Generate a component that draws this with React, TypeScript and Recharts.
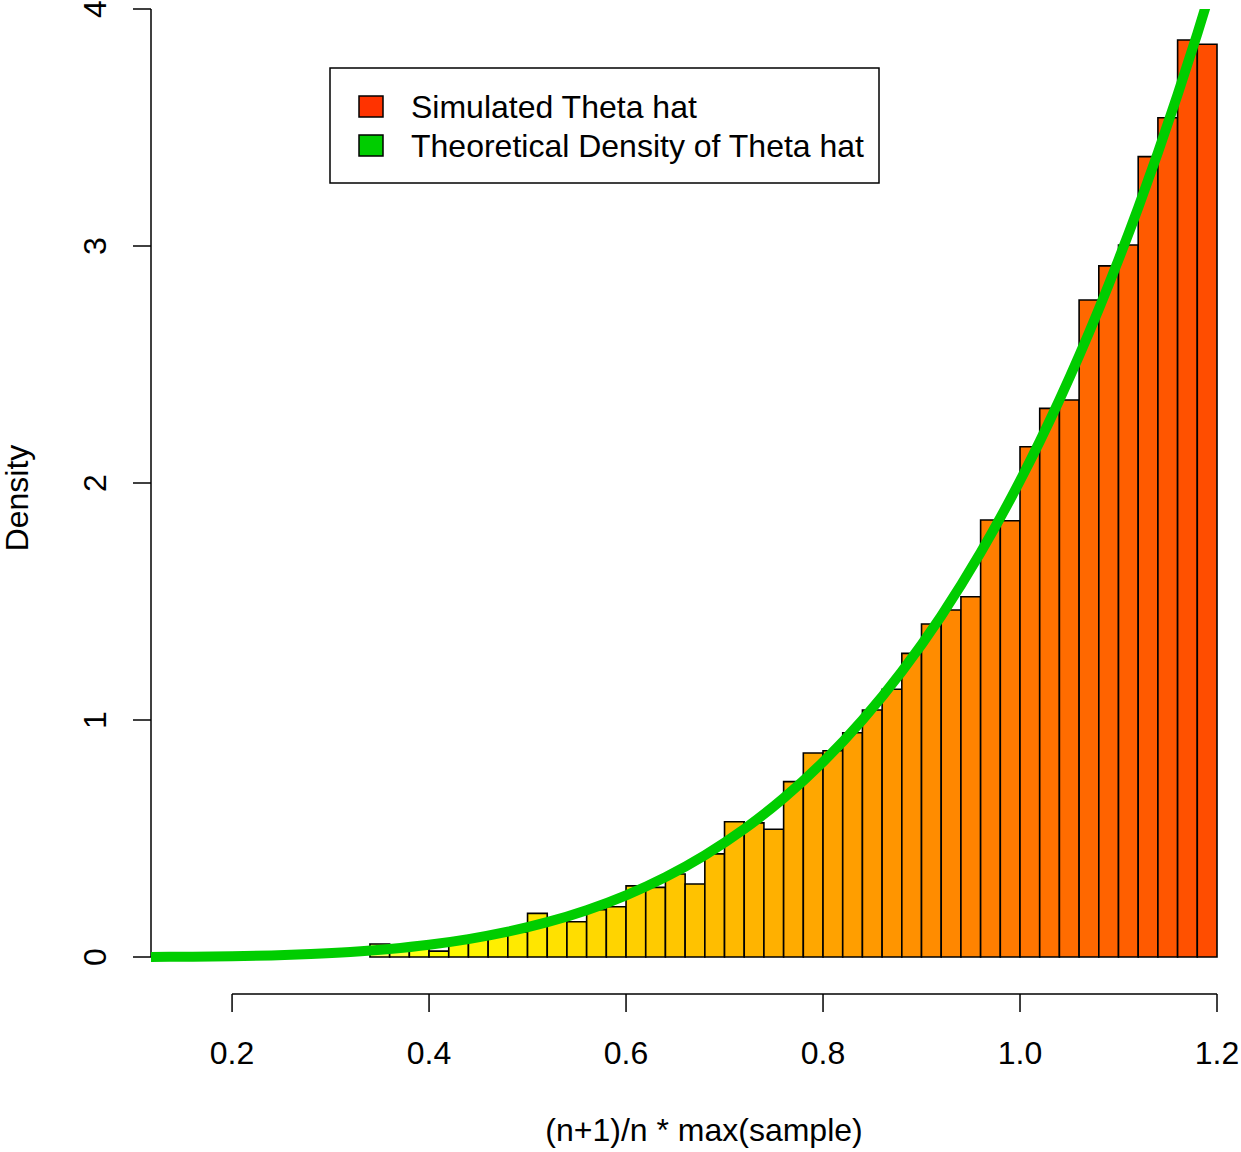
import React from "react";
import { ComposedChart, Line, XAxis, YAxis, ReferenceArea, ReferenceLine } from "recharts";

// Histogram bins (left edge of each 0.02-wide bin) and their densities
const binStarts: number[] = [
  0.34, 0.36, 0.38, 0.40, 0.42, 0.44, 0.46, 0.48, 0.50, 0.52, 0.54, 0.56, 0.58, 0.60,
  0.62, 0.64, 0.66, 0.68, 0.70, 0.72, 0.74, 0.76, 0.78, 0.80, 0.82, 0.84, 0.86, 0.88,
  0.90, 0.92, 0.94, 0.96, 0.98, 1.00, 1.02, 1.04, 1.06, 1.08, 1.10, 1.12, 1.14, 1.16, 1.18,
];
const binWidth = 0.02;
const binDensity: number[] = [
  0.055, 0.035, 0.04, 0.025, 0.065, 0.085, 0.09, 0.105, 0.184, 0.155, 0.149, 0.2, 0.212, 0.3,
  0.294, 0.35, 0.308, 0.435, 0.571, 0.566, 0.539, 0.74, 0.861, 0.87, 0.946, 1.042, 1.13, 1.281,
  1.405, 1.464, 1.52, 1.844, 1.841, 2.153, 2.315, 2.35, 2.772, 2.916, 3.004, 3.377, 3.541, 3.869, 3.851,
];

// Theoretical density curve
const curveX: number[] = [
  0.1177, 0.16, 0.2, 0.24, 0.28, 0.32, 0.36, 0.4, 0.44, 0.48, 0.52, 0.56, 0.6, 0.64, 0.68, 0.72,
  0.76, 0.8, 0.84, 0.88, 0.92, 0.96, 1.0, 1.02, 1.04, 1.06, 1.08, 1.1, 1.12, 1.14, 1.16, 1.18, 1.2,
];
const curveY: number[] = [
  0.0004, 0.0013, 0.0032, 0.0067, 0.0124, 0.0211, 0.0338, 0.0514, 0.0753, 0.1067, 0.1469, 0.1976,
  0.2604, 0.3371, 0.4296, 0.54, 0.6703, 0.823, 1.0004, 1.205, 1.4393, 1.7067, 2.0094, 2.175, 2.3507,
  2.5368, 2.7338, 2.9422, 3.1618, 3.3938, 3.6383, 3.8953, 4.1667,
];

const xTicks: number[] = [0.2, 0.4, 0.6, 0.8, 1.0, 1.2];
const yTicks: number[] = [0, 1, 2, 3, 4];
const xDomain: [number, number] = [0.1177, 1.2];
const yDomain: [number, number] = [-0.1561, 4];

const legendItems = [
  { label: "Simulated Theta hat", color: "#FF3300" },
  { label: "Theoretical Density of Theta hat", color: "#00CD00" },
];

const FONT = "'Liberation Sans', Arial, Helvetica, sans-serif";
const CURVE_COLOR = "#00CD00";

function binColor(start: number): string {
  const mid = start + binWidth / 2;
  let h = 18 + (1.19 - mid) * 53;
  if (h > 60) h = 60;
  const g = Math.round((255 * h) / 60);
  let b = 0;
  if (mid < 0.4) {
    const s = 1 - ((0.4 - mid) / 0.02) * 0.15;
    b = Math.round(255 * (1 - s));
  }
  return `rgb(255, ${g}, ${b})`;
}

const curveData = curveX.map((x, i) => ({ x, y: curveY[i] }));

const XTick = (props: any) => {
  const { x, y, payload } = props;
  return (
    <text x={x} y={y + 50} textAnchor="middle" fontSize={32} fontFamily={FONT} fill="#000">
      {Number(payload.value).toFixed(1)}
    </text>
  );
};

const YTick = (props: any) => {
  const { x, y, payload } = props;
  const bx = x - 25;
  return (
    <text
      x={bx}
      y={y}
      transform={`rotate(-90, ${bx}, ${y})`}
      textAnchor="middle"
      fontSize={32}
      fontFamily={FONT}
      fill="#000"
    >
      {String(payload.value)}
    </text>
  );
};

export default function App() {
  return (
    <div style={{ position: "absolute", left: 0, top: 0, width: 1241, height: 1152, background: "#fff" }}>
      <ComposedChart
        width={1241}
        height={1152}
        data={curveData}
        margin={{ top: 9, right: 24, bottom: 0, left: 0 }}
      >
        <XAxis
          type="number"
          dataKey="x"
          domain={xDomain}
          ticks={xTicks}
          allowDataOverflow
          axisLine={false}
          tickSize={18}
          tickLine={{ stroke: "#000", strokeWidth: 1.5 }}
          tick={<XTick />}
          height={158}
          interval={0}
        />
        <YAxis
          type="number"
          domain={yDomain}
          ticks={yTicks}
          allowDataOverflow
          axisLine={false}
          tickSize={18}
          tickLine={{ stroke: "#000", strokeWidth: 1.5 }}
          tick={<YTick />}
          width={151}
          interval={0}
        />
        {binStarts.map((s, i) => (
          <ReferenceArea
            key={`bin-${i}`}
            x1={s}
            x2={s + binWidth}
            y1={0}
            y2={binDensity[i]}
            fill={binColor(s)}
            fillOpacity={1}
            stroke="#000"
            strokeWidth={1.6}
            ifOverflow="visible"
          />
        ))}
        <ReferenceLine
          segment={[{ x: xDomain[0], y: 0 }, { x: xDomain[0], y: 4 }]}
          stroke="#000"
          strokeWidth={1.5}
          ifOverflow="visible"
        />
        <ReferenceLine
          segment={[{ x: 0.2, y: yDomain[0] }, { x: 1.2, y: yDomain[0] }]}
          stroke="#000"
          strokeWidth={1.5}
          ifOverflow="visible"
        />
        <Line
          type="monotone"
          dataKey="y"
          stroke={CURVE_COLOR}
          strokeWidth={10}
          dot={false}
          activeDot={false}
          isAnimationActive={false}
        />
        <text x={704} y={1141} textAnchor="middle" fontSize={32} fontFamily={FONT} fill="#000">
          (n+1)/n * max(sample)
        </text>
        <text
          x={28}
          y={498}
          transform="rotate(-90, 28, 498)"
          textAnchor="middle"
          fontSize={32}
          fontFamily={FONT}
          fill="#000"
        >
          Density
        </text>
        <g>
          <rect x={330} y={68} width={549} height={115} fill="#fff" stroke="#000" strokeWidth={1.5} />
          {legendItems.map((it, i) => (
            <g key={it.label}>
              <rect x={359} y={96 + i * 39} width={24} height={21} fill={it.color} stroke="#000" strokeWidth={1.5} />
              <text x={411} y={118 + i * 39} fontSize={32} fontFamily={FONT} fill="#000">
                {it.label}
              </text>
            </g>
          ))}
        </g>
      </ComposedChart>
    </div>
  );
}
